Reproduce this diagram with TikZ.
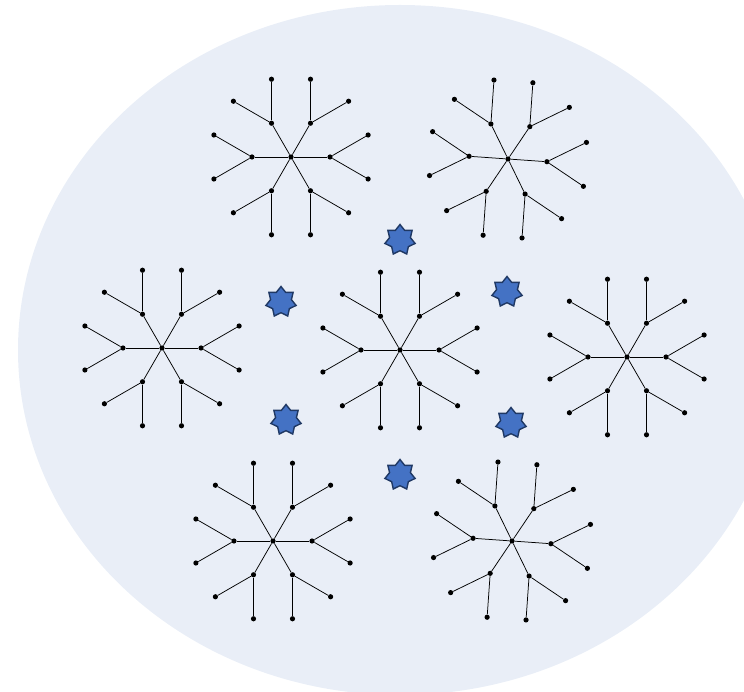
\documentclass[tikz,border=0pt]{standalone}
\usepackage{tikz}
\usetikzlibrary{calc}
\usetikzlibrary{shapes.geometric}

\definecolor{cellbg}{RGB}{233,238,247}
\definecolor{guestfill}{RGB}{68,114,196}
\definecolor{guestline}{RGB}{31,56,100}

\newcommand{\dendrimer}[3]{%
  \node[core] (#1) at (#2) {};
  \foreach \a [count=\i] in {0,60,...,300} {
    \node[bead] (#1-\i) at ($(#1)+(\a+#3:39)$) {};
    \node[bead] (#1-\i-l) at ($(#1-\i)+(\a+#3+30:44)$) {};
    \node[bead] (#1-\i-r) at ($(#1-\i)+(\a+#3-30:44)$) {};
    \draw[bond] (#1) -- (#1-\i);
    \draw[bond] (#1-\i) -- (#1-\i-l);
    \draw[bond] (#1-\i) -- (#1-\i-r);
  }%
}

\begin{document}
\begin{tikzpicture}[x=1pt, y=1pt,
    bead/.style={circle, fill=black, inner sep=0pt, minimum size=5.2pt},
    core/.style={bead},
    bond/.style={line width=0.75pt, black},
    guest/.style={star, star points=7, star point ratio=1.45, minimum size=31pt, inner sep=0pt, fill=guestfill, draw=guestline, line width=1.4pt}]
\useasboundingbox (0,0) rectangle (744,691);
\clip (0,0) rectangle (744,691);
\fill[cellbg] (400,341) ellipse [x radius=382, y radius=345];

\dendrimer{tl}{291,534}{0}
\dendrimer{tr}{508,532}{-4}
\dendrimer{ml}{162,343}{0}
\dendrimer{mc}{400,341}{0}
\dendrimer{mr}{627,334}{0}
\dendrimer{bl}{273,150}{0}
\dendrimer{br}{512,150}{-4}

\node[guest] (g1) at (400,451) {};
\node[guest] (g2) at (281,389) {};
\node[guest] (g3) at (507,399) {};
\node[guest] (g4) at (286,271) {};
\node[guest] (g5) at (511,268) {};
\node[guest] (g6) at (400,216) {};
\end{tikzpicture}
\end{document}
